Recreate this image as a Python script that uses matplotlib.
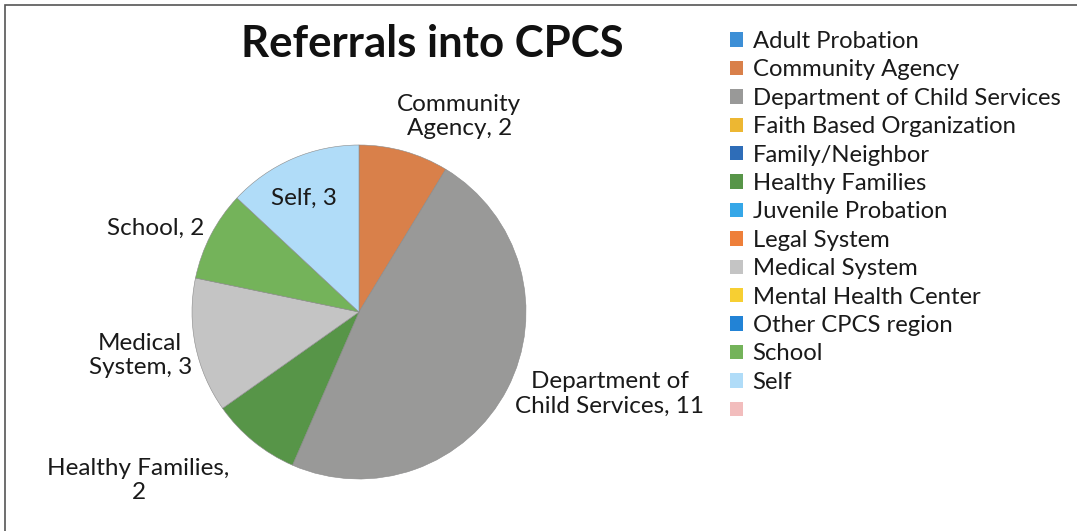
import matplotlib.pyplot as plt
from matplotlib.patches import Patch, Rectangle

plt.rcParams['font.family'] = ['Lato', 'DejaVu Sans']

# legend categories and the values shown in the pie
categories = ['Adult Probation', 'Community Agency', 'Department of Child Services',
              'Faith Based Organization', 'Family/Neighbor', 'Healthy Families',
              'Juvenile Probation', 'Legal System', 'Medical System',
              'Mental Health Center', 'Other CPCS region', 'School', 'Self', '']
values = [0, 2, 11, 0, 0, 2, 0, 0, 3, 0, 0, 2, 3, 0]
colors = ['#3D8FD6', '#D9804A', '#999998', '#EDB732', '#2E6DB8', '#579548',
          '#35A7E8', '#EE7F3A', '#C4C4C4', '#F7CF32', '#2283D6', '#74B35A',
          '#B0DCF8', '#F2BDBD']

# label text and spot (relative to pie radius) for the non-zero slices
slice_labels = {
    'Community Agency': ('Community\nAgency, 2', 0.60, 1.17),
    'Department of Child Services': ('Department of\nChild Services, 11', 1.50, -0.49),
    'Healthy Families': ('Healthy Families,\n2', -1.32, -1.01),
    'Medical System': ('Medical\nSystem, 3', -1.31, -0.26),
    'School': ('School, 2', -1.22, 0.50),
    'Self': ('Self, 3', -0.33, 0.68),
}

fig = plt.figure(figsize=(10.77, 5.31), dpi=100)
fig.patch.set_facecolor('white')

# pie axes: centre ~ (359, 312) px, radius ~167 px
r_px = 167
cx, cy = 359, 312
W, H = 1077, 531
ax = fig.add_axes([(cx - r_px) / W, (H - cy - r_px) / H, 2 * r_px / W, 2 * r_px / H])
nz = [(v, c) for v, c in zip(values, colors) if v > 0]
ax.pie([v for v, c in nz], colors=[c for v, c in nz], startangle=90,
       counterclock=False, radius=1,
       wedgeprops=dict(edgecolor='#8a8a8a', linewidth=0.4))
ax.set_xlim(-1, 1)
ax.set_ylim(-1, 1)
ax.set_aspect('equal')

for name, (txt, x, y) in slice_labels.items():
    ax.text(x, y, txt, ha='center', va='center', fontsize=17.5,
            color='#1a1a1a', linespacing=1.2, clip_on=False)

fig.text(432 / W, 1 - 44 / H, 'Referrals into CPCS', ha='center', va='center',
         fontsize=31.5, fontweight='bold', color='#111111')

handles = [Patch(facecolor=c, edgecolor='none') for c in colors]
leg = fig.legend(handles, categories, loc='upper left',
                 bbox_to_anchor=(718 / W, 1 - 19 / H), frameon=False,
                 fontsize=17.2, handlelength=0.55, handleheight=0.55,
                 handletextpad=0.4, labelspacing=0.31, borderpad=0)
for t in leg.get_texts():
    t.set_color('#1a1a1a')

# frame around the chart
fig.add_artist(Rectangle((5 / W, -0.05), 1.2, 1 - 5 / H + 0.05,
                         transform=fig.transFigure, fill=False,
                         edgecolor='#555555', linewidth=1.2))

fig.savefig('out.png', dpi=100)
